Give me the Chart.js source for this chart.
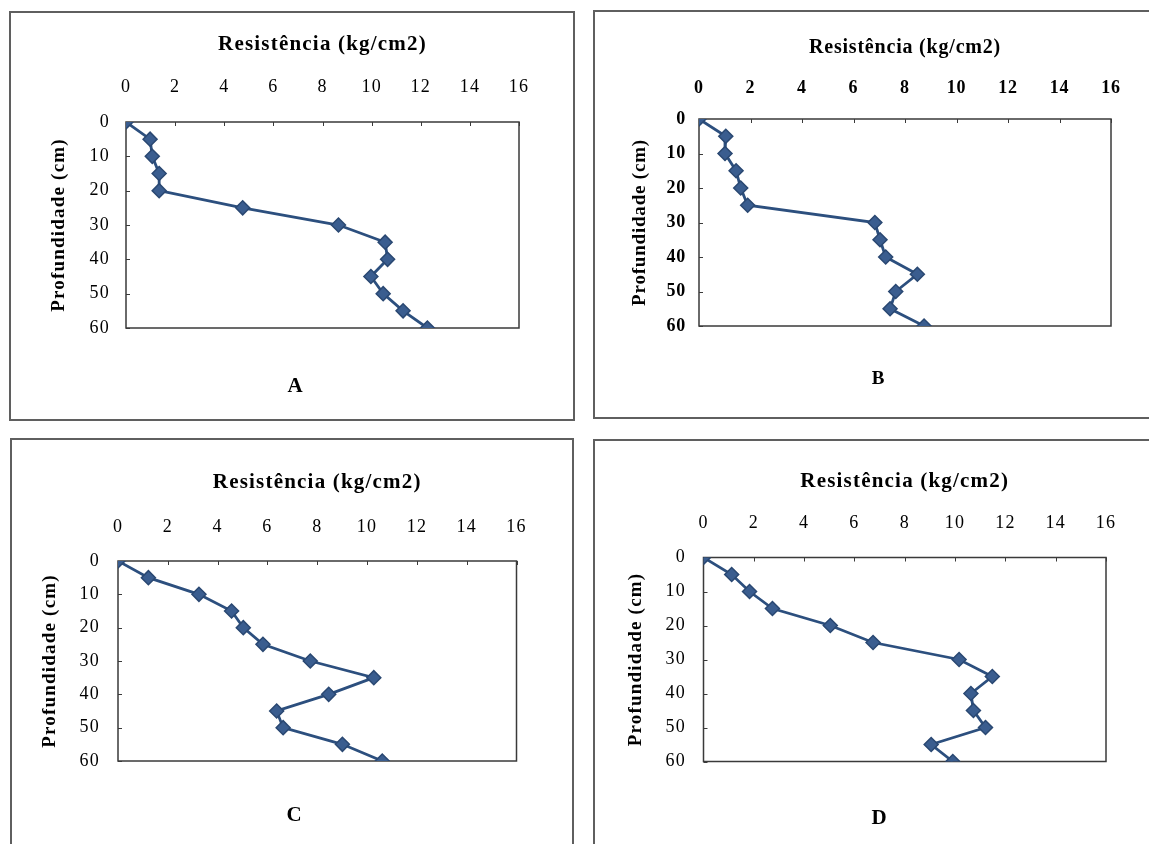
<!DOCTYPE html>
<html>
<head>
<meta charset="utf-8">
<script src="https://cdn.jsdelivr.net/npm/chart.js@4/dist/chart.umd.min.js"></script>
<style>
  html, body { margin:0; padding:0; background:#fff; width:1149px; height:844px; overflow:hidden; }
  .panel { position:absolute; outline:2px solid #5f5f5f; outline-offset:-2px; }
  .panel canvas { position:absolute; left:0; top:0; }
  .letter { position:absolute; transform:translate(-50%,-50%); font-family:'Liberation Serif','Times New Roman',serif; font-weight:bold; font-size:21px; color:#000; }
</style>
</head>
<body>
<script>
// ---- data ----
const depths = [0, 5, 10, 15, 20, 25, 30, 35, 40, 45, 50, 55, 60];
const resistA = [0, 0.98, 1.07, 1.35, 1.35, 4.75, 8.65, 10.55, 10.65, 9.97, 10.47, 11.28, 12.27];
const resistB = [0, 1.04, 1.01, 1.44, 1.62, 1.89, 6.83, 7.03, 7.25, 8.48, 7.64, 7.42, 8.74];
const resistC = [0, 1.22, 3.25, 4.56, 5.03, 5.82, 7.72, 10.27, 8.46, 6.37, 6.63, 9.01, 10.61];
const resistD = [0, 1.12, 1.83, 2.74, 5.04, 6.74, 10.16, 11.48, 10.63, 10.73, 11.21, 9.05, 9.91];
const xTicks = [0, 2, 4, 6, 8, 10, 12, 14, 16];
const yTicks = [0, 10, 20, 30, 40, 50, 60];
const xTitle = 'Resistência (kg/cm2)';
const yTitle = 'Profundidade (cm)';
const panelLetters = ['A', 'B', 'C', 'D'];

// ---- layout (page pixels) ----
const layouts = [
  { box:[9, 11, 566, 410],  area:[126, 519, 122, 328],     titleY:45,  tickY:87.5, yTitleX:59,  yLabelRight:110, letter:[295, 385], bold:false, spacing:1.2, xTitleSize:21 },
  { box:[593, 10, 560, 409], area:[699, 1111, 119, 326],   titleY:48,  tickY:88,   yTitleX:640, yLabelRight:686, letter:[878, 378], bold:true,  spacing:0.8, xTitleSize:20 },
  { box:[10, 438, 564, 420], area:[118, 516.5, 561, 761],  titleY:483, tickY:527,  yTitleX:50,  yLabelRight:100, letter:[294, 814], bold:false, spacing:1.2, xTitleSize:21 },
  { box:[593, 439, 560, 420], area:[703.5, 1106, 557.5, 761.5], titleY:482, tickY:523, yTitleX:636, yLabelRight:686, letter:[879, 817], bold:false, spacing:1.2, xTitleSize:21 }
];
const series = [resistA, resistB, resistC, resistD];

const FAMILY = "'Liberation Serif','Times New Roman',serif";
const LH = 1.2;

const framePlugin = {
  id: 'frame',
  beforeUpdate(chart) { chart.ctx.letterSpacing = chart.options.plugins.frame.spacing + 'px'; },
  beforeDraw(chart) { chart.ctx.letterSpacing = chart.options.plugins.frame.spacing + 'px'; },
  beforeDatasetsDraw(chart) {
    const { ctx, chartArea: a, scales } = chart;
    ctx.save();
    ctx.strokeStyle = '#3a3a3a';
    ctx.lineWidth = 1.5;
    ctx.strokeRect(a.left, a.top, a.right - a.left, a.bottom - a.top);
    ctx.lineWidth = 1;
    ctx.beginPath();
    xTicks.forEach(v => {
      const px = Math.round(scales.x.getPixelForValue(v)) + 0.5;
      ctx.moveTo(px, a.top); ctx.lineTo(px, a.top + 4);
    });
    yTicks.forEach(v => {
      const py = Math.round(scales.y.getPixelForValue(v)) + 0.5;
      ctx.moveTo(a.left, py); ctx.lineTo(a.left + 4, py);
    });
    ctx.stroke();
    ctx.restore();
  }
};

layouts.forEach((p, i) => {
  const [bx, by, W, H] = p.box;
  const l = p.area[0] - bx, r = p.area[1] - bx, t = p.area[2] - by, b = p.area[3] - by;
  const div = document.createElement('div');
  div.className = 'panel';
  Object.assign(div.style, { left: bx + 'px', top: by + 'px', width: W + 'px', height: H + 'px' });
  const cv = document.createElement('canvas');
  div.appendChild(cv);
  document.body.appendChild(div);

  const lab = document.createElement('div');
  lab.className = 'letter';
  lab.textContent = panelLetters[i];
  lab.style.left = p.letter[0] + 'px';
  lab.style.top = p.letter[1] + 'px';
  if (i === 1) lab.style.fontSize = '19px';
  document.body.appendChild(lab);

  const tickSize = 18, xTitleSize = p.xTitleSize, yTitleSize = 19;
  const tickFont = { family: FAMILY, size: tickSize, weight: p.bold ? 'bold' : 'normal', lineHeight: LH };
  const xTitleFont = { family: FAMILY, size: xTitleSize, weight: 'bold', lineHeight: LH };
  const yTitleFont = { family: FAMILY, size: yTitleSize, weight: 'bold', lineHeight: LH };

  new Chart(cv, {
    type: 'scatter',
    data: {
      datasets: [{
        data: depths.map((d, k) => ({ x: series[i][k], y: d })),
        showLine: true,
        borderColor: '#2c4f7e',
        borderWidth: 2.8,
        tension: 0,
        pointStyle: 'rectRot',
        pointRadius: 7,
        pointBackgroundColor: '#3a5d8f',
        pointBorderColor: '#2a4872',
        pointBorderWidth: 1.5
      }]
    },
    options: {
      responsive: true,
      maintainAspectRatio: false,
      animation: false,
      events: [],
      layout: { padding: { left: 0, top: 0, right: W - r, bottom: H - b } },
      plugins: { legend: { display: false }, tooltip: { enabled: false }, frame: { spacing: p.spacing } },
      scales: {
        x: {
          type: 'linear', position: 'top', min: 0, max: 16,
          afterBuildTicks(s) { s.ticks = xTicks.map(v => ({ value: v })); },
          ticks: { color: '#000', font: tickFont, padding: t - (p.tickY - by) - tickSize * LH / 2, maxRotation: 0, autoSkip: false },
          grid: { display: false, drawTicks: false },
          border: { display: false },
          title: { display: true, text: xTitle, color: '#000', font: xTitleFont,
                   padding: { top: (p.titleY - by) - xTitleSize * LH / 2, bottom: 0 } },
          afterFit(s) { s.height = t; }
        },
        y: {
          type: 'linear', position: 'left', min: 0, max: 60, reverse: true,
          afterBuildTicks(s) { s.ticks = yTicks.map(v => ({ value: v })); },
          ticks: { color: '#000', font: tickFont, padding: l - (p.yLabelRight - bx), autoSkip: false },
          grid: { display: false, drawTicks: false },
          border: { display: false },
          title: { display: true, text: yTitle, color: '#000', font: yTitleFont,
                   padding: { top: (p.yTitleX - bx) - yTitleSize * LH / 2, bottom: 0 } },
          afterFit(s) { s.width = l; }
        }
      }
    },
    plugins: [framePlugin]
  });
});
</script>
</body>
</html>
